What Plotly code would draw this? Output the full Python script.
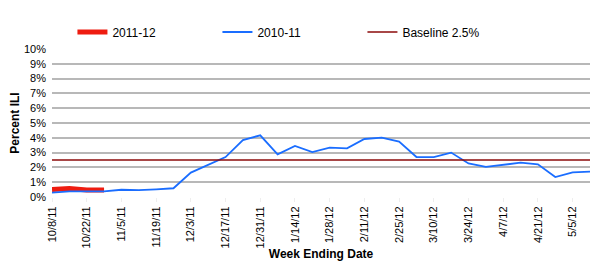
import plotly.graph_objects as go

weeks = ["10/8/11", "10/15/11", "10/22/11", "10/29/11", "11/5/11", "11/12/11", "11/19/11", "11/26/11",
         "12/3/11", "12/10/11", "12/17/11", "12/24/11", "12/31/11", "1/7/12", "1/14/12", "1/21/12",
         "1/28/12", "2/4/12", "2/11/12", "2/18/12", "2/25/12", "3/3/12", "3/10/12", "3/17/12",
         "3/24/12", "3/31/12", "4/7/12", "4/14/12", "4/21/12", "4/28/12", "5/5/12", "5/12/12"]
season_2011_12 = [0.50, 0.58, 0.47, 0.47]
season_2010_11 = [0.29, 0.38, 0.38, 0.38, 0.49, 0.47, 0.52, 0.59, 1.65, 2.16, 2.70, 3.85, 4.17, 2.88,
                  3.45, 3.04, 3.33, 3.29, 3.92, 4.01, 3.74, 2.70, 2.70, 3.00, 2.27, 2.03, 2.19, 2.32,
                  2.21, 1.35, 1.67, 1.71]
baseline = 2.5
y_ticks = [0, 1, 2, 3, 4, 5, 6, 7, 8, 9, 10]

fig = go.Figure()
fig.add_trace(go.Scatter(x=weeks[:len(season_2011_12)], y=season_2011_12, mode="lines",
                         name="2011-12", line=dict(color="#ee1c10", width=5)))
fig.add_trace(go.Scatter(x=weeks, y=season_2010_11, mode="lines", name="2010-11",
                         line=dict(color="#1a6dff", width=1.8)))
fig.add_trace(go.Scatter(x=weeks, y=[baseline] * len(weeks), mode="lines", name="Baseline 2.5%",
                         line=dict(color="#8b0a0a", width=1.6)))

fig.update_layout(
    width=600, height=270,
    margin=dict(l=52, r=10, t=49, b=73, autoexpand=False),
    paper_bgcolor="white", plot_bgcolor="white",
    font=dict(family="Liberation Sans, Arial, sans-serif", size=11, color="black"),
    legend=dict(orientation="h", x=0.038, xanchor="left", y=1.115, yanchor="middle",
                font=dict(size=12), entrywidth=100, entrywidthmode="pixels",
                bgcolor="rgba(0,0,0,0)"),
    showlegend=True,
)
fig.update_xaxes(
    type="category", categoryorder="array", categoryarray=weeks,
    range=[0, len(weeks) - 1], automargin=False,
    tickvals=weeks[::2], ticktext=weeks[::2], tickangle=-90,
    showgrid=False, zeroline=False, showline=False,
    ticks="outside", ticklen=4, tickcolor="#eeeeee",
    tickfont=dict(size=11),
    title=dict(text="<b>Week Ending Date</b>", font=dict(size=12), standoff=2),
)
fig.update_yaxes(
    range=[0, 10], tickvals=y_ticks, ticktext=[f"{v}%" for v in y_ticks], automargin=False,
    showgrid=True, gridcolor="#b8b8b8", gridwidth=1.5, zeroline=False, showline=False,
    tickfont=dict(size=11), ticks="", ticklabelstandoff=5,
    title=dict(text="<b>Percent ILI</b>", font=dict(size=12), standoff=1),
)
fig.write_html("out.html")
